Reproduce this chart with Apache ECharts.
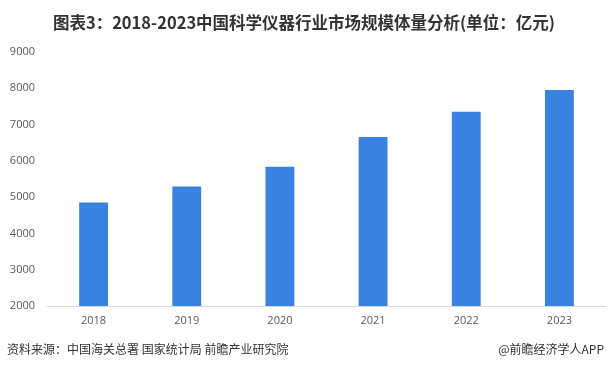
<!DOCTYPE html>
<html>
<head>
<meta charset="utf-8">
<script src="https://cdn.jsdelivr.net/npm/echarts@6/dist/echarts.min.js"></script>
<style>
html,body{margin:0;padding:0;background:#fff;}
#c{width:608px;height:372px;}
</style>
</head>
<body>
<div id="c"></div>
<script>
var categories = ['2018', '2019', '2020', '2021', '2022', '2023'];
var values = [4850, 5290, 5840, 6660, 7350, 7950];
var yMin = 2000, yMax = 9000, yStep = 1000;
var titleText = '图表3：2018-2023中国科学仪器行业市场规模体量分析(单位：亿元)';
var sourceText = '资料来源：中国海关总署 国家统计局 前瞻产业研究院';
var brandText = '@前瞻经济学人APP';

var chart = echarts.init(document.getElementById('c'), null, {renderer: 'canvas'});
chart.setOption({
  backgroundColor: '#ffffff',
  animation: false,
  title: {
    text: titleText,
    left: 'center',
    top: 9,
    textStyle: {fontFamily: '"Noto Sans CJK SC", sans-serif', fontSize: 16.5, fontWeight: 'bold', color: '#333333'}
  },
  graphic: [
    {type: 'text', left: 7, top: 343, style: {text: sourceText, fontFamily: '"Noto Sans CJK SC", sans-serif', fontSize: 12, fill: '#333333'}},
    {type: 'text', right: 4, top: 343, style: {text: brandText, fontFamily: '"Noto Sans CJK SC", sans-serif', fontSize: 12, fill: '#333333'}}
  ],
  grid: {left: 47, right: 2, top: 52, bottom: 66},
  xAxis: {
    type: 'category',
    data: categories,
    axisLine: {lineStyle: {color: '#d9d9d9'}},
    axisTick: {show: false},
    axisLabel: {color: '#595959', fontSize: 11, fontFamily: '"Open Sans", sans-serif', margin: 9}
  },
  yAxis: {
    type: 'value',
    min: yMin, max: yMax, interval: yStep,
    axisLine: {show: false},
    axisTick: {show: false},
    splitLine: {show: false},
    axisLabel: {color: '#595959', fontSize: 11, fontFamily: '"Open Sans", sans-serif', margin: 12,
      formatter: function (v) { return String(v); }}
  },
  series: [{
    type: 'bar',
    data: values,
    barWidth: '31%',
    itemStyle: {color: '#3a82e0'}
  }]
});
</script>
</body>
</html>
